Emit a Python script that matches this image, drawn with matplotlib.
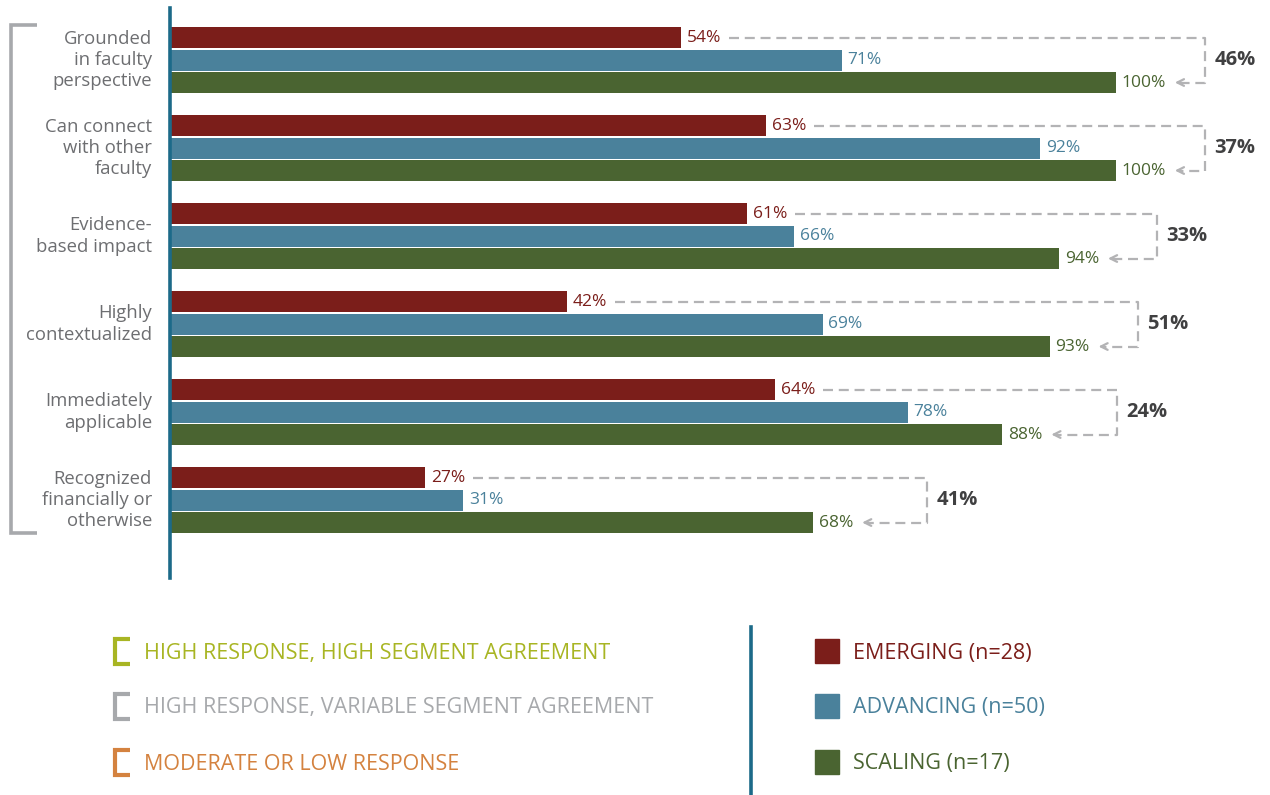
import matplotlib
matplotlib.use("Agg")
import matplotlib.pyplot as plt
from matplotlib.patches import Rectangle

plt.rcParams['font.family'] = ['Open Sans', 'DejaVu Sans']

categories = ["Grounded\nin faculty\nperspective", "Can connect\nwith other\nfaculty",
              "Evidence-\nbased impact", "Highly\ncontextualized",
              "Immediately\napplicable", "Recognized\nfinancially or\notherwise"]
emerging = [54, 63, 61, 42, 64, 27]
advancing = [71, 92, 66, 69, 78, 31]
scaling = [100, 100, 94, 93, 88, 68]
gaps = ["46%", "37%", "33%", "51%", "24%", "41%"]
bracket_x = [109.4, 109.4, 104.3, 102.3, 100.1, 80.0]

series_names = ["EMERGING (n=28)", "ADVANCING (n=50)", "SCALING (n=17)"]
key_names = ["HIGH RESPONSE, HIGH SEGMENT AGREEMENT",
             "HIGH RESPONSE, VARIABLE SEGMENT AGREEMENT",
             "MODERATE OR LOW RESPONSE"]

RED = "#7b1e1a"
BLUE = "#4a819b"
GREEN = "#4a6431"
TEAL = "#1c6a89"
GREYLINE = "#b3b3b5"
key_cols = ["#a8b523", "#a7a9ac", "#d4823f"]
ser_cols = [RED, BLUE, GREEN]

W, H = 1270, 795
fig = plt.figure(figsize=(W / 100, H / 100), dpi=100)

# main axes: pixel 170 -> 0%, 9.46 px per %
px = 9.46
ax = fig.add_axes([170 / W, 1 - 578 / H, (W - 170) / W, (578 - 8) / H])
ax.set_xlim(0, (W - 170) / px)
ax.set_ylim(5.886, -0.591)
ax.axis("off")
ax.plot([0, 0], [-0.591, 5.886], color=TEAL, lw=2.6, clip_on=False, zorder=5)

off = 22.5 / 88
bh = 21 / 88
fs_val = 12.5

for i in range(len(categories)):
    vals = [emerging[i], advancing[i], scaling[i]]
    ys = [i - off, i, i + off]
    for v, y, c in zip(vals, ys, ser_cols):
        ax.barh(y, v, height=bh, color=c, zorder=3)
        ax.text(v + 0.6, y, f"{v}%", color=c, fontsize=fs_val, va="center", ha="left")
    ax.text(-1.9, i, categories[i], ha="right", va="center", fontsize=13.3,
            color="#6d6e71", linespacing=1.24)

fig.canvas.draw()
r = fig.canvas.get_renderer()
inv = ax.transData.inverted()

for i in range(len(categories)):
    t_red = ax.texts[i * 4 + 0]
    t_grn = ax.texts[i * 4 + 2]
    xr = inv.transform((t_red.get_window_extent(r).x1 + 8, 0))[0]
    xg = inv.transform((t_grn.get_window_extent(r).x1 + 6, 0))[0]
    bx = bracket_x[i]
    yr, yg = i - off, i + off
    ax.plot([xr, bx, bx, xg + 0.8], [yr, yr, yg, yg], color=GREYLINE, lw=1.6,
            dashes=(4.5, 2.6), clip_on=False)
    ax.annotate("", xy=(xg, yg), xytext=(xg + 1.2, yg),
                arrowprops=dict(arrowstyle="->", color=GREYLINE, lw=1.6,
                                mutation_scale=12), annotation_clip=False)
    ax.text(bx + 1.0, i, gaps[i], ha="left", va="center", fontsize=14.5,
            fontweight="bold", color="#404041")

# overlay in pixel coordinates for the bracket and keys
ov = fig.add_axes([0, 0, 1, 1], zorder=-1)
ov.set_xlim(0, W)
ov.set_ylim(H, 0)
ov.axis("off")
ov.patch.set_alpha(0)

ov.plot([37, 11, 11, 37], [25, 25, 533, 533], color="#a7a9ac", lw=2.6,
        solid_capstyle="butt", solid_joinstyle="miter")

key_y = [651, 706, 762]
for y, name, c in zip(key_y, key_names, key_cols):
    ov.plot([130, 115, 115, 130], [y - 12.5, y - 12.5, y + 12.5, y + 12.5], color=c,
            lw=3, solid_capstyle="butt", solid_joinstyle="miter")
    ov.text(144, y + 2, name, color=c, fontsize=15.5, va="center", ha="left")

ov.plot([751, 751], [627, 795], color=TEAL, lw=2.6)
for y, name, c in zip(key_y, series_names, ser_cols):
    ov.add_patch(Rectangle((815, y - 12), 24, 24, color=c))
    ov.text(853, y + 2, name, color=c, fontsize=15.5, va="center", ha="left")

fig.savefig("out.png", dpi=100)
